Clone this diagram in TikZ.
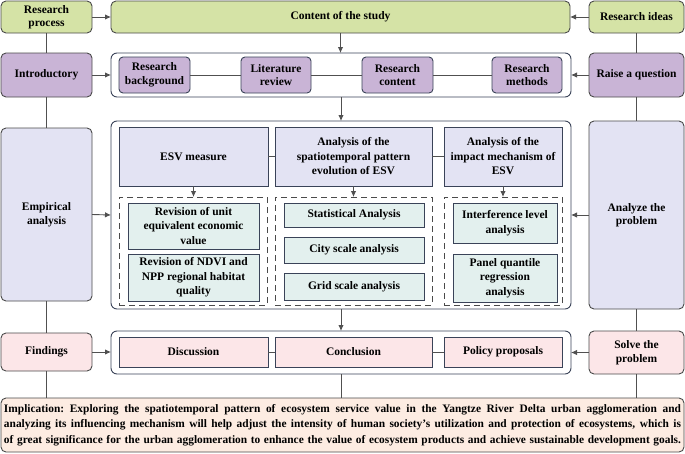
\documentclass[tikz,border=0pt]{standalone}
\usepackage{fontspec}
\setmainfont{Liberation Serif}
\usetikzlibrary{arrows.meta}
\definecolor{cgreen}{HTML}{D5E3A6}
\definecolor{cpurple}{HTML}{C9B4D6}
\definecolor{clav}{HTML}{E3E3F3}
\definecolor{cteal}{HTML}{E3F0EE}
\definecolor{cpink}{HTML}{FCE6E8}
\definecolor{cpeach}{HTML}{FDECE2}
\definecolor{cedge}{HTML}{4A4A4A}
\definecolor{cnavy}{HTML}{3A4358}
\definecolor{cline}{HTML}{505050}
\tikzset{
  base/.style={draw=cedge, line width=0.9pt, inner sep=2pt, outer sep=0pt, align=center,
    font=\fontsize{11.5}{13.5}\selectfont\bfseries},
  tight/.style={font=\fontsize{11.5}{14.5}\selectfont\bfseries},
  outerbox/.style={base, rounded corners=5pt},
  container/.style={draw=cnavy, line width=0.9pt, rounded corners=6pt, inner sep=0pt, outer sep=0pt, fill=white},
  innerbox/.style={base, draw=cnavy, rounded corners=4pt},
  sqbox/.style={base, draw=cnavy},
  dashbox/.style={draw=cedge, line width=0.9pt, dash pattern=on 6pt off 4pt, inner sep=0pt, outer sep=0pt},
  conn/.style={draw=cline, line width=0.9pt},
  arr/.style={conn, -{Latex[length=6pt,width=5.5pt]}},
}
\begin{document}
\begin{tikzpicture}[x=1pt,y=-1pt]
\useasboundingbox (0,0) rectangle (685,453);
% left column
\node[outerbox, fill=cgreen, minimum width=91, minimum height=32] (rp) at (46.5,17) {Research\\process};
\node[outerbox, fill=cpurple, minimum width=91, minimum height=44] (intro) at (46.5,75) {Introductory};
\node[outerbox, fill=clav, minimum width=91, minimum height=173] (emp) at (46.5,214.5) {Empirical\\analysis};
\node[outerbox, fill=cpink, minimum width=91, minimum height=38] (find) at (46.5,352) {Findings};
% right column
\node[outerbox, fill=cgreen, minimum width=95, minimum height=32] (ri) at (636.5,17) {Research ideas};
\node[outerbox, fill=cpurple, minimum width=95, minimum height=44] (raise) at (636.5,75) {Raise a question};
\node[outerbox, fill=clav, minimum width=95, minimum height=188] (ana) at (636.5,215) {Analyze the\\problem};
\node[outerbox, fill=cpink, minimum width=95, minimum height=43] (solve) at (636.5,352.5) {Solve the\\problem};
% implication
\node[outerbox, fill=cpeach, minimum width=683, minimum height=54, text width=677, align=justify,
  font=\fontsize{11.4}{15.5}\selectfont\bfseries] (impl) at (342.5,425)
  {Implication:\enspace Exploring the spatiotemporal pattern of ecosystem service value in the Yangtze River Delta urban agglomeration and\linebreak analyzing its influencing mechanism will help adjust the intensity of human society's utilization and protection of ecosystems, which is\linebreak of great significance for the urban agglomeration to enhance the value of ecosystem products and achieve sustainable development goals.\parfillskip=0pt\par};
% center column
\node[outerbox, fill=cgreen, minimum width=459, minimum height=32] (cs) at (340.5,17) {Content of the study};
\node[container, minimum width=460, minimum height=44] (c1) at (341,75) {};
\node[container, minimum width=460, minimum height=188] (c2) at (341,215) {};
\node[container, minimum width=460, minimum height=43] (c3) at (341,352.5) {};
% row 2
\node[innerbox, fill=cpurple, minimum width=71, minimum height=36] (rb) at (154.5,75) {Research\\background};
\node[innerbox, fill=cpurple, minimum width=70, minimum height=36] (lr) at (276,75) {Literature\\review};
\node[innerbox, fill=cpurple, minimum width=71, minimum height=36] (rc) at (397.5,75) {Research\\content};
\node[innerbox, fill=cpurple, minimum width=70, minimum height=36] (rm) at (527,75) {Research\\methods};
% row 3 headers
\node[sqbox, fill=clav, minimum width=149, minimum height=59] (h1) at (193.5,156.5) {ESV measure};
\node[sqbox, tight, fill=clav, minimum width=157, minimum height=59] (h2) at (353.5,156.5) {Analysis of the\\spatiotemporal pattern\\evolution of ESV};
\node[sqbox, tight, fill=clav, minimum width=118, minimum height=59] (h3) at (503,156.5) {Analysis of the\\impact mechanism of\\ESV};
% dashed groups
\node[dashbox, minimum width=148, minimum height=108] (d1) at (193,251) {};
\node[dashbox, minimum width=157, minimum height=108] (d2) at (353.5,251) {};
\node[dashbox, minimum width=118, minimum height=108] (d3) at (503,251) {};
% green items
\node[sqbox, tight, fill=cteal, minimum width=131, minimum height=46] (g11) at (193.5,226) {Revision of unit\\equivalent economic\\value};
\node[sqbox, tight, fill=cteal, minimum width=131, minimum height=47] (g12) at (193.5,277.5) {Revision of NDVI and\\NPP regional habitat\\quality};
\node[sqbox, fill=cteal, minimum width=140, minimum height=24] (g21) at (354,215) {Statistical Analysis};
\node[sqbox, fill=cteal, minimum width=140, minimum height=26] (g22) at (354,250) {City scale analysis};
\node[sqbox, fill=cteal, minimum width=140, minimum height=27] (g23) at (354,286.5) {Grid scale analysis};
\node[sqbox, tight, fill=cteal, minimum width=104, minimum height=40] (g31) at (505,223) {Interference level\\analysis};
\node[sqbox, tight, fill=cteal, minimum width=104, minimum height=48] (g32) at (505,278) {Panel quantile\\regression\\analysis};
% row 4
\node[sqbox, fill=cpink, minimum width=149, minimum height=30] (disc) at (193.5,352) {Discussion};
\node[sqbox, fill=cpink, minimum width=157, minimum height=30] (concl) at (353.5,352) {Conclusion};
\node[sqbox, fill=cpink, minimum width=118, minimum height=30] (pol) at (503,352) {Policy proposals};
% vertical side lines
\draw[conn] (rp.south) -- (intro.north);
\draw[conn] (intro.south) -- (emp.north);
\draw[conn] (emp.south) -- (find.north);
\draw[conn] (find.south) -- (find.south |- impl.north);
\draw[conn] (ri.south) -- (raise.north);
\draw[conn] (raise.south) -- (ana.north);
\draw[conn] (ana.south) -- (solve.north);
\draw[conn] (solve.south) -- (solve.south |- impl.north);
% horizontal arrows
\draw[arr] (rp.east) -- (cs.west);
\draw[arr] (ri.west) -- (cs.east);
\draw[arr] (intro.east) -- (c1.west);
\draw[arr] (raise.west) -- (c1.east);
\draw[arr] (emp.east) -- (c2.west);
\draw[arr] (ana.west) -- (c2.east);
\draw[arr] (find.east) -- (find.east -| c3.west);
\draw[arr] (solve.west) -- (c3.east);
% central flow
\draw[arr] (cs.south) -- (cs.south |- c1.north);
\draw[arr] (c1.south) -- (c2.north);
\draw[arr] (c2.south) -- (c3.north);
\draw[conn] (c3.south) -- (c3.south |- impl.north);
% inner links
\draw[conn] (rb) -- (lr);
\draw[conn] (lr) -- (rc);
\draw[conn] (rc) -- (rm);
\draw[conn] (h1) -- (h2);
\draw[conn] (h2) -- (h3);
\draw[conn] (disc) -- (concl);
\draw[conn] (concl) -- (pol);
\draw[arr] (h1.south) -- (h1.south |- d1.north);
\draw[arr] (h2.south) -- (h2.south |- d2.north);
\draw[arr] (h3.south) -- (h3.south |- d3.north);
\end{tikzpicture}
\end{document}
